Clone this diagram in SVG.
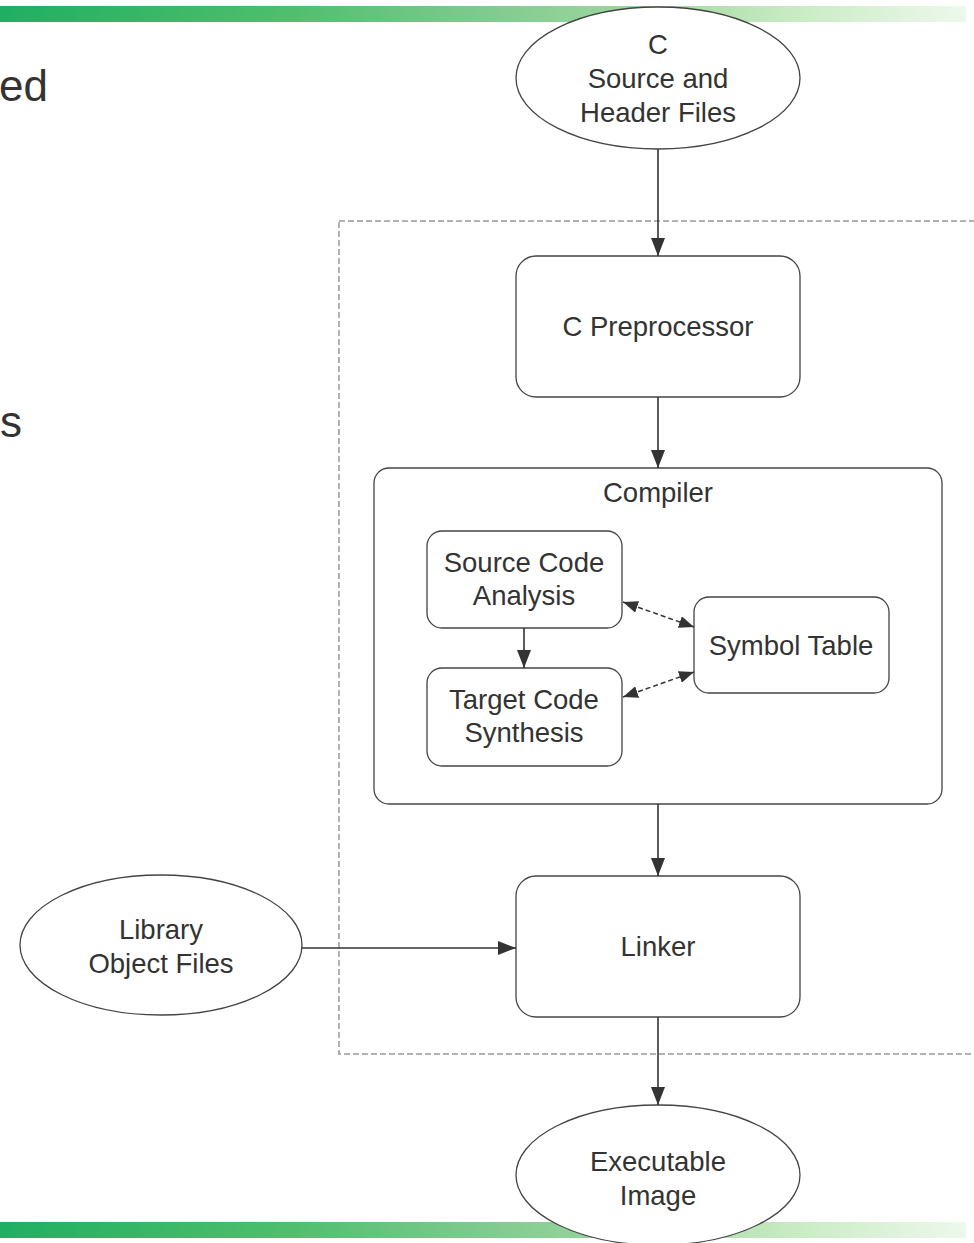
<svg xmlns="http://www.w3.org/2000/svg" width="974" height="1243" viewBox="0 0 974 1243">
  <defs>
    <linearGradient id="band" x1="0" y1="0" x2="1" y2="0">
      <stop offset="0" stop-color="#1faf62"/>
      <stop offset="0.3" stop-color="#4fbf6c"/>
      <stop offset="0.5" stop-color="#7fca8f"/>
      <stop offset="0.68" stop-color="#a3d9a0"/>
      <stop offset="0.82" stop-color="#c8ebc3"/>
      <stop offset="1" stop-color="#eef8ec"/>
    </linearGradient>
    <marker id="arrow" markerUnits="userSpaceOnUse" markerWidth="20" markerHeight="14" refX="18" refY="7" orient="auto">
      <path d="M0,0 L18,7 L0,14 Z" fill="#333"/>
    </marker>
    <marker id="tip" markerUnits="userSpaceOnUse" markerWidth="16" markerHeight="12" refX="15" refY="6" orient="auto-start-reverse">
      <path d="M0,0 L15,6 L0,12 Z" fill="#333"/>
    </marker>
  </defs>
  <style>
    .node { fill: #fff; stroke: #444; stroke-width: 1.3; }
    .lbl { font-family: "Liberation Sans", Arial, sans-serif; font-size: 27.5px; fill: #333; text-anchor: middle; }
    .title { font-family: "Liberation Sans", Arial, sans-serif; font-size: 44px; fill: #333; }
    .edge { stroke: #333; stroke-width: 1.6; fill: none; }
    .dual { stroke: #333; stroke-width: 1.5; fill: none; stroke-dasharray: 5 3; }
    .frame { fill: none; stroke: #999; stroke-width: 1.5; stroke-dasharray: 6 3; }
  </style>

  <!-- decorative bands -->
  <rect x="0" y="6" width="966" height="16" fill="url(#band)"/>
  <rect x="0" y="1222" width="966" height="16" fill="url(#band)"/>

  <!-- partial heading text -->
  <text class="title" x="-1" y="101">ed</text>
  <text class="title" x="0" y="437">s</text>

  <!-- toolchain boundary -->
  <rect class="frame" x="339" y="221" width="660" height="833"/>

  <g id="sources">
    <ellipse class="node" cx="658" cy="78" rx="142" ry="71"/>
    <text class="lbl" x="658" y="54">C</text>
    <text class="lbl" x="658" y="88">Source and</text>
    <text class="lbl" x="658" y="122">Header Files</text>
  </g>

  <g id="preprocessor">
    <rect class="node" x="516" y="256" width="284" height="141" rx="20"/>
    <text class="lbl" x="658" y="336">C Preprocessor</text>
  </g>

  <g id="compiler">
    <rect class="node" x="374" y="468" width="568" height="336" rx="15"/>
    <text class="lbl" x="658" y="502">Compiler</text>
  </g>

  <g id="analysis">
    <rect class="node" x="427" y="531" width="195" height="97" rx="15"/>
    <text class="lbl" x="524" y="572">Source Code</text>
    <text class="lbl" x="524" y="605">Analysis</text>
  </g>

  <g id="synthesis">
    <rect class="node" x="427" y="668" width="195" height="98" rx="15"/>
    <text class="lbl" x="524" y="709">Target Code</text>
    <text class="lbl" x="524" y="742">Synthesis</text>
  </g>

  <g id="symbols">
    <rect class="node" x="694" y="597" width="195" height="96" rx="15"/>
    <text class="lbl" x="791" y="655">Symbol Table</text>
  </g>

  <g id="linker">
    <rect class="node" x="516" y="876" width="284" height="141" rx="20"/>
    <text class="lbl" x="658" y="956">Linker</text>
  </g>

  <g id="libraries">
    <ellipse class="node" cx="161" cy="945" rx="141" ry="70"/>
    <text class="lbl" x="161" y="939">Library</text>
    <text class="lbl" x="161" y="973">Object Files</text>
  </g>

  <g id="executable">
    <ellipse class="node" cx="658" cy="1175" rx="142" ry="70"/>
    <text class="lbl" x="658" y="1171">Executable</text>
    <text class="lbl" x="658" y="1205">Image</text>
  </g>

  <!-- connectors sit above the node fills -->
  <g id="connectors">
    <line class="edge" x1="658" y1="149" x2="658" y2="256" marker-end="url(#arrow)"/>
    <line class="edge" x1="658" y1="397" x2="658" y2="468" marker-end="url(#arrow)"/>
    <line class="edge" x1="524" y1="628" x2="524" y2="668" marker-end="url(#arrow)"/>
    <line class="dual" x1="623" y1="602" x2="694" y2="627" marker-start="url(#tip)" marker-end="url(#tip)"/>
    <line class="dual" x1="623" y1="697" x2="694" y2="672" marker-start="url(#tip)" marker-end="url(#tip)"/>
    <line class="edge" x1="658" y1="804" x2="658" y2="876" marker-end="url(#arrow)"/>
    <line class="edge" x1="302" y1="948" x2="516" y2="948" marker-end="url(#arrow)"/>
    <line class="edge" x1="658" y1="1017" x2="658" y2="1105" marker-end="url(#arrow)"/>
  </g>
</svg>
